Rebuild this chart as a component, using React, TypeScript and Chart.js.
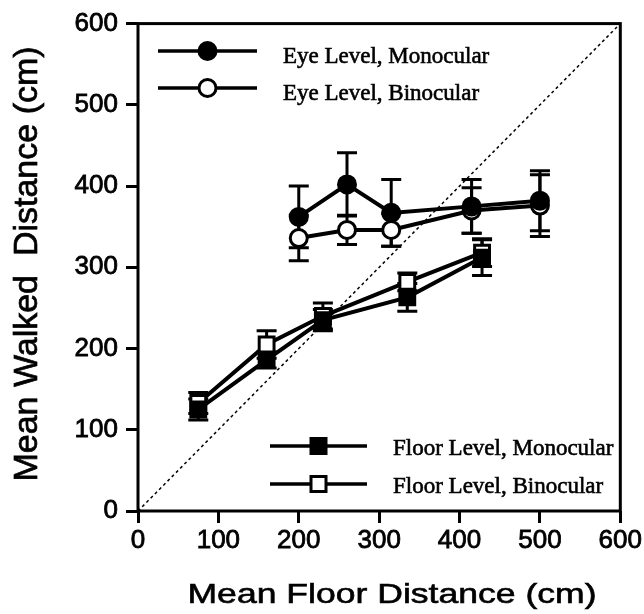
import React, { useEffect, useRef } from "react";
import { Chart, registerables } from "chart.js";

Chart.register(...registerables);

const eyeX = [200, 260, 315, 415, 500];
const eyeMono = [362, 402, 367, 375, 382];
const eyeMonoErr = [38, 39, 41, 33, 37];
const eyeBino = [336, 346, 346, 370, 376];
const eyeBinoErr = [28, 18, 20, 28, 38];

const floorX = [75, 160, 230, 335, 428];
const floorMono = [125, 186, 235, 263, 312];
const floorMonoErr = [13, 10, 13, 17, 22];
const floorBino = [133, 205, 240, 282, 318];
const floorBinoErr = [13, 17, 16, 11, 17];

const diagX = [0, 600];
const diagY = [0, 600];

const labels = [
  "Eye Level, Monocular",
  "Eye Level, Binocular",
  "Floor Level, Monocular",
  "Floor Level, Binocular",
];

const axisTicks = [0, 100, 200, 300, 400, 500, 600];
const xTitle = "Mean Floor Distance (cm)";
const yTitle = "Mean Walked  Distance (cm)";

const toPts = (xs: number[], ys: number[]) => xs.map((x, i) => ({ x, y: ys[i] }));

const errorBarPlugin = {
  id: "errorBars",
  beforeDatasetsDraw(chart: any) {
    const ctx = chart.ctx;
    const xs = chart.scales.x;
    const ys = chart.scales.y;
    ctx.save();
    ctx.strokeStyle = "#000";
    ctx.lineWidth = 3;
    chart.data.datasets.forEach((ds: any) => {
      if (!ds.errors) return;
      ds.data.forEach((p: any, i: number) => {
        const e = ds.errors[i];
        const px = xs.getPixelForValue(p.x);
        const top = ys.getPixelForValue(p.y + e);
        const bot = ys.getPixelForValue(p.y - e);
        ctx.beginPath();
        ctx.moveTo(px, top);
        ctx.lineTo(px, bot);
        ctx.moveTo(px - 10, top);
        ctx.lineTo(px + 10, top);
        ctx.moveTo(px - 10, bot);
        ctx.lineTo(px + 10, bot);
        ctx.stroke();
      });
    });
    ctx.restore();
  },
};

const framePlugin = {
  id: "frame",
  afterDraw(chart: any) {
    const ctx = chart.ctx;
    const a = chart.chartArea;
    ctx.save();
    ctx.strokeStyle = "#000";
    ctx.lineWidth = 3;
    ctx.strokeRect(a.left, a.top, a.right - a.left, a.bottom - a.top);
    ctx.restore();
  },
};

const heavyText = (ctx: any, text: string, x: number, y: number, w: number) => {
  ctx.fillText(text, x, y);
  ctx.lineWidth = w;
  ctx.strokeStyle = "#000";
  ctx.strokeText(text, x, y);
};

const titlePlugin = {
  id: "axisTitles",
  afterDraw(chart: any) {
    const ctx = chart.ctx;
    ctx.save();
    ctx.fillStyle = "#000";
    ctx.save();
    ctx.translate(392, 603);
    ctx.scale(1.27, 1);
    ctx.font = "28px 'Liberation Sans'";
    ctx.textAlign = "center";
    ctx.textBaseline = "alphabetic";
    heavyText(ctx, xTitle, 0, 0, 0.6);
    ctx.restore();
    ctx.save();
    ctx.translate(37, 264);
    ctx.rotate(-Math.PI / 2);
    ctx.font = "34px 'Liberation Sans'";
    ctx.textAlign = "center";
    ctx.textBaseline = "alphabetic";
    heavyText(ctx, yTitle, 0, 0, 0.7);
    ctx.restore();
    ctx.restore();
  },
};

const drawMarker = (ctx: any, style: string, filled: boolean, x: number, y: number) => {
  ctx.beginPath();
  if (style === "circle") {
    ctx.arc(x, y, 8.5, 0, Math.PI * 2);
  } else {
    ctx.rect(x - 7.5, y - 7.5, 15, 15);
  }
  ctx.fillStyle = filled ? "#000" : "#fff";
  ctx.fill();
  ctx.lineWidth = 3;
  ctx.strokeStyle = "#000";
  ctx.stroke();
};

const legendPlugin = {
  id: "customLegends",
  afterDraw(chart: any) {
    const ctx = chart.ctx;
    const ds = chart.data.datasets;
    const items = [
      { d: ds[0], x0: 158, x1: 257, y: 51, tx: 283, ty: 63 },
      { d: ds[1], x0: 158, x1: 257, y: 88, tx: 283, ty: 100 },
      { d: ds[2], x0: 270, x1: 367, y: 446, tx: 393, ty: 455 },
      { d: ds[3], x0: 270, x1: 367, y: 484, tx: 393, ty: 493 },
    ];
    ctx.save();
    items.forEach((it) => {
      ctx.strokeStyle = "#000";
      ctx.lineWidth = 3.5;
      ctx.beginPath();
      ctx.moveTo(it.x0, it.y);
      ctx.lineTo(it.x1, it.y);
      ctx.stroke();
      const filled = it.d.pointBackgroundColor === "#000";
      drawMarker(ctx, it.d.pointStyle === "circle" ? "circle" : "rect", filled, (it.x0 + it.x1) / 2, it.y);
      ctx.fillStyle = "#000";
      ctx.font = "23px 'Liberation Serif'";
      ctx.textBaseline = "alphabetic";
      ctx.textAlign = "left";
      heavyText(ctx, it.d.label, it.tx, it.ty, 0.6);
    });
    ctx.restore();
  },
};

export default function App() {
  const ref = useRef<HTMLCanvasElement>(null);
  useEffect(() => {
    document.body.style.margin = "0";
    const mk = (label: string, xs: number[], ys: number[], errs: number[], style: string, filled: boolean) => ({
      label,
      data: toPts(xs, ys),
      errors: errs,
      borderColor: "#000",
      borderWidth: 4,
      pointStyle: style,
      pointRadius: style === "circle" ? 8.5 : 10.5,
      pointBackgroundColor: filled ? "#000" : "#fff",
      pointBorderColor: "#000",
      pointBorderWidth: 3,
      showLine: true,
      fill: false,
    });
    const tickFont = { family: "'Liberation Sans'", size: 26 };
    const tickOpts = {
      color: "#000",
      font: tickFont,
      textStrokeColor: "#000",
      textStrokeWidth: 0.8,
    };
    const chart = new Chart(ref.current!, {
      type: "scatter",
      data: {
        datasets: [
          mk(labels[0], eyeX, eyeMono, eyeMonoErr, "circle", true),
          mk(labels[1], eyeX, eyeBino, eyeBinoErr, "circle", false),
          mk(labels[2], floorX, floorMono, floorMonoErr, "rect", true),
          mk(labels[3], floorX, floorBino, floorBinoErr, "rect", false),
          {
            label: "diag",
            data: toPts(diagX, diagY),
            borderColor: "#000",
            borderWidth: 1.5,
            borderDash: [3, 3],
            pointRadius: 0,
            showLine: true,
            fill: false,
          } as any,
        ],
      },
      options: {
        animation: false,
        responsive: false,
        layout: { padding: { top: 23, right: 23, left: 0, bottom: 0 } },
        plugins: { legend: { display: false }, tooltip: { enabled: false } },
        scales: {
          x: {
            type: "linear",
            min: 0,
            max: 600,
            afterBuildTicks: (axis: any) => {
              axis.ticks = axisTicks.map((v) => ({ value: v }));
            },
            afterFit: (axis: any) => {
              axis.height = 103;
            },
            grid: { drawOnChartArea: false, tickLength: 12, color: "#000", lineWidth: 3 },
            border: { display: false },
            ticks: { ...tickOpts, padding: 2, maxRotation: 0 },
          },
          y: {
            type: "linear",
            min: 0,
            max: 600,
            afterBuildTicks: (axis: any) => {
              axis.ticks = axisTicks.map((v) => ({ value: v }));
            },
            afterFit: (axis: any) => {
              axis.width = 138;
            },
            grid: { drawOnChartArea: false, tickLength: 12, color: "#000", lineWidth: 3 },
            border: { display: false },
            ticks: { ...tickOpts, padding: 8 },
          },
        },
      },
      plugins: [errorBarPlugin, framePlugin, legendPlugin, titlePlugin],
    } as any);
    return () => chart.destroy();
  }, []);
  return (
    <div style={{ width: 644, height: 614 }}>
      <canvas ref={ref} width={644} height={614} style={{ display: "block" }} />
    </div>
  );
}
